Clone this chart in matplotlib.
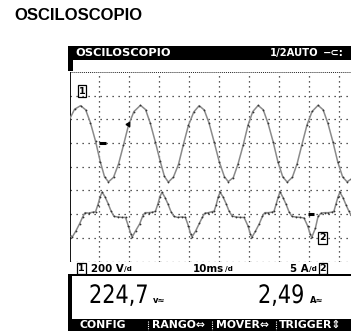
import matplotlib
matplotlib.use("Agg")
import matplotlib.pyplot as plt
from matplotlib.font_manager import FontProperties
from matplotlib.patches import Rectangle, PathPatch
from matplotlib.textpath import TextPath
from matplotlib.transforms import Affine2D

# Canal 1: tensión (V), 200 V/div, cero en la división 5
t1 = [0.0, 1.7, 3.7, 5.4, 7.0, 8.7, 10.3, 11.7, 13.0, 14.7, 16.4, 18.0, 19.7, 21.5,
      23.7, 25.4, 27.0, 28.7, 30.3, 31.7, 33.0, 34.7, 36.4, 38.0, 39.7, 41.5,
      43.3, 45.0, 46.6, 48.3, 50.0, 51.7, 53.0, 54.7, 56.3, 58.0, 59.6, 61.2,
      63.0, 64.7, 66.3, 68.0, 69.6, 71.2, 72.7, 74.4, 76.0, 77.6, 79.3, 81.0,
      83.0, 84.7, 86.3, 88.0, 89.6, 91.2, 92.7, 94.0]
v1 = [200, 285, 315, 280, 170, 15, -160, -285, -328, -290, -175, -20, 150, 265,
      318, 282, 165, 5, -155, -282, -330, -288, -180, -15, 148, 262,
      315, 278, 168, 8, -158, -283, -326, -292, -175, -18, 150, 265,
      317, 280, 166, 10, -160, -285, -330, -290, -176, -15, 152, 266,
      318, 280, 165, 6, -162, -286, -328, -305]

# Canal 2: corriente (A), 5 A/div, cero en la división 2
t2 = [0.0, 0.9, 2.1, 3.4, 4.4, 5.2, 6.4, 7.7, 8.7, 9.5, 10.2, 10.9, 11.9, 12.9, 13.9, 14.9, 16.2, 17.5, 18.7, 19.7, 20.5,
      20.9, 22.1, 23.4, 24.4, 25.2, 26.4, 27.7, 28.7, 29.5, 30.2, 30.9, 31.9, 32.9, 33.9, 34.9, 36.2, 37.5, 38.7, 39.7, 40.5,
      40.9, 42.1, 43.4, 44.4, 45.2, 46.4, 47.5, 48.3, 49.0, 49.7, 50.3, 51.3, 52.3, 53.3, 54.3, 55.6, 56.9, 58.3, 59.6, 60.4,
      60.9, 62.1, 63.4, 64.4, 65.2, 66.4, 67.5, 68.3, 69.0, 69.7, 70.3, 71.3, 72.3, 73.3, 74.3, 75.6, 76.9, 78.3, 79.6, 80.4,
      80.9, 82.1, 83.0, 84.0, 85.2, 86.4, 87.5, 88.3, 89.0, 89.7, 90.3, 91.3, 92.3, 93.3, 94.0]
a2 = [-4.5, -4.85, -3.6, -2.0, -0.6, 0.3, 0.2, 0.4, 0.5, 2.0, 3.6, 4.65, 3.6, 2.2, 0.6, -0.5, -0.6, -0.7, -0.7, -2.6, -4.2,
      -4.85, -3.5, -2.1, -0.5, 0.3, 0.3, 0.4, 0.6, 2.1, 3.7, 4.6, 3.5, 2.1, 0.5, -0.5, -0.7, -0.6, -0.7, -2.5, -4.3,
      -4.8, -3.6, -1.9, -0.6, 0.2, 0.3, 0.5, 0.6, 2.0, 3.7, 4.6, 3.6, 2.2, 0.6, -0.4, -0.6, -0.7, -0.7, -2.5, -4.2,
      -4.9, -3.6, -2.0, -0.5, 0.3, 0.3, 0.4, 0.6, 2.1, 3.6, 4.7, 3.5, 2.1, 0.5, -0.5, -0.6, -0.7, -0.8, -2.6, -4.3,
      -4.9, -3.0, -0.5, 0.2, 0.3, 0.3, 0.4, 0.6, 2.2, 3.7, 4.6, 3.5, 2.0, 0.6, -0.2]

lineas_t = [10, 20, 30, 40, 50, 60, 70, 80, 90]
lineas_y = [0, 1, 2, 3, 4, 5, 6, 7]

titulo = "OSCILOSCOPIO"
estado = "1/2AUTO"
escalas = ["200 V", "10ms", "5 A"]
lectura_v = "224,7"
lectura_a = "2,49"
menu = ["CONFIG", "RANGO⇔", "MOVER⇔", "TRIGGER⇕"]

lcd = "DejaVu Sans"

fig = plt.figure(figsize=(3.51, 3.35), dpi=100)
bg = fig.add_axes([0, 0, 1, 1])
bg.set_xlim(0, 351)
bg.set_ylim(335, 0)
bg.axis("off")
renderer = fig.canvas.get_renderer()

# Título
bg.text(14, 15, titulo, fontsize=12, fontweight="bold", family="Liberation Sans",
        ha="left", va="center")

# Barra superior
bg.add_patch(Rectangle((68, 46), 283, 13.5, color="black", lw=0))
bg.add_patch(Rectangle((68, 59), 4.5, 12, color="black", lw=0))
bg.text(75, 52.8, "OSCILOSCOPIO", color="white", fontsize=8.2, fontweight="bold",
        family=lcd, ha="left", va="center")
bg.text(318, 52.8, estado, color="white", fontsize=7.2, fontweight="bold",
        family=lcd, ha="right", va="center")
bg.text(323, 52.8, "−⊂:", color="white", fontsize=7.2, fontweight="bold",
        family=lcd, ha="left", va="center")

# Zona de la retícula
x0, x1 = 69.5, 351
y_top, y_bot = 71.9, 261.5
ax = fig.add_axes([x0 / 351, (335 - y_bot) / 335, (x1 - x0) / 351, (y_bot - y_top) / 335])
ax.set_xlim(0, 94)
ax.set_ylim(0, 8)
ax.axis("off")
for t in lineas_t:
    ax.axvline(t, color="#222222", lw=0.9, ls=(0, (1, 3)))
for d in lineas_y:
    ax.axhline(d, color="#222222", lw=0.9, ls=(0, (1, 3.8)))
ax.axhline(8, color="#222222", lw=0.7, ls=(0, (1, 1)))
ax.axvline(0, color="black", lw=1.3)

y1 = [v / 200 + 5 for v in v1]
y2 = [a / 5 + 2 for a in a2]
for tt, yy in ((t1, y1), (t2, y2)):
    ax.plot(tt, yy, color="#8a8a8a", lw=1.1, solid_joinstyle="round")
    ax.plot(tt, yy, ls="none", marker="o", ms=1.3, color="#333333", mec="none")

# marcadores de cero y disparo
ax.plot([10, 12.2], [5, 5], color="black", lw=2.2, solid_capstyle="butt")
ax.plot([79.6, 81.8], [2.0, 2.0], color="black", lw=2.2, solid_capstyle="butt")
ax.plot([19.4], [5.8], marker=(3, 0, 90), ms=3.5, color="black")


def caja(x, y, s):
    bg.text(x, y, s, fontsize=6.8, fontweight="bold", family=lcd, ha="center", va="center",
            bbox=dict(boxstyle="square,pad=0.12", fc="white", ec="black", lw=0.9))


caja(82, 91, "1")
caja(322.5, 238, "2")

# fila de escalas ("/d" en pequeño, pegado a la unidad)
def escala(x, y, s, ha="left"):
    kw = dict(fontweight="bold", family=lcd, va="center")
    if ha == "left":
        t = bg.text(x, y, s, fontsize=7.4, ha="left", **kw)
        bb = t.get_window_extent(renderer)
        bg.text(bb.x1 + 0.5, y + 0.8, "/d", fontsize=5.2, ha="left", **kw)
    else:
        t = bg.text(x, y + 0.8, "/d", fontsize=5.2, ha="right", **kw)
        bb = t.get_window_extent(renderer)
        bg.text(bb.x0 - 0.5, y, s, fontsize=7.4, ha="right", **kw)


caja(81.5, 268.5, "1")
caja(323, 268.5, "2")
escala(91, 268.5, escalas[0])
escala(193, 268.5, escalas[1])
escala(317, 268.5, escalas[2], ha="right")

# zona de lectura
bg.add_patch(Rectangle((68, 274), 283, 1.6, color="black", lw=0))
bg.add_patch(Rectangle((68, 274), 4, 46, color="black", lw=0))


def digitos(x, y, s, alto=18.5, sx=0.82):
    tp = TextPath((0, 0), s, size=100, prop=FontProperties(family=lcd))
    k = alto / 72.9
    tr = Affine2D().scale(k * sx, -k).translate(x, y)
    bg.add_patch(PathPatch(tr.transform_path(tp), fc="black", ec="none"))


digitos(89, 303, lectura_v)
bg.text(153, 303, "v≈", fontsize=6, fontweight="bold", family=lcd, ha="left", va="baseline")
digitos(258, 303, lectura_a)
bg.text(310, 303, "A≈", fontsize=6, fontweight="bold", family=lcd, ha="left", va="baseline")

# barra de menú
bg.add_patch(Rectangle((68, 319), 283, 12, color="black", lw=0))
pos_menu = [80, 152, 216, 279]
for x, s in zip(pos_menu, menu):
    bg.text(x, 325.3, s, color="white", fontsize=7.8, fontweight="bold", family=lcd,
            ha="left", va="center")
for x in [148, 212, 276]:
    bg.plot([x, x], [320.5, 330], color="white", lw=0.8, ls=(0, (1, 1)))

fig.savefig("out.png", dpi=100)
